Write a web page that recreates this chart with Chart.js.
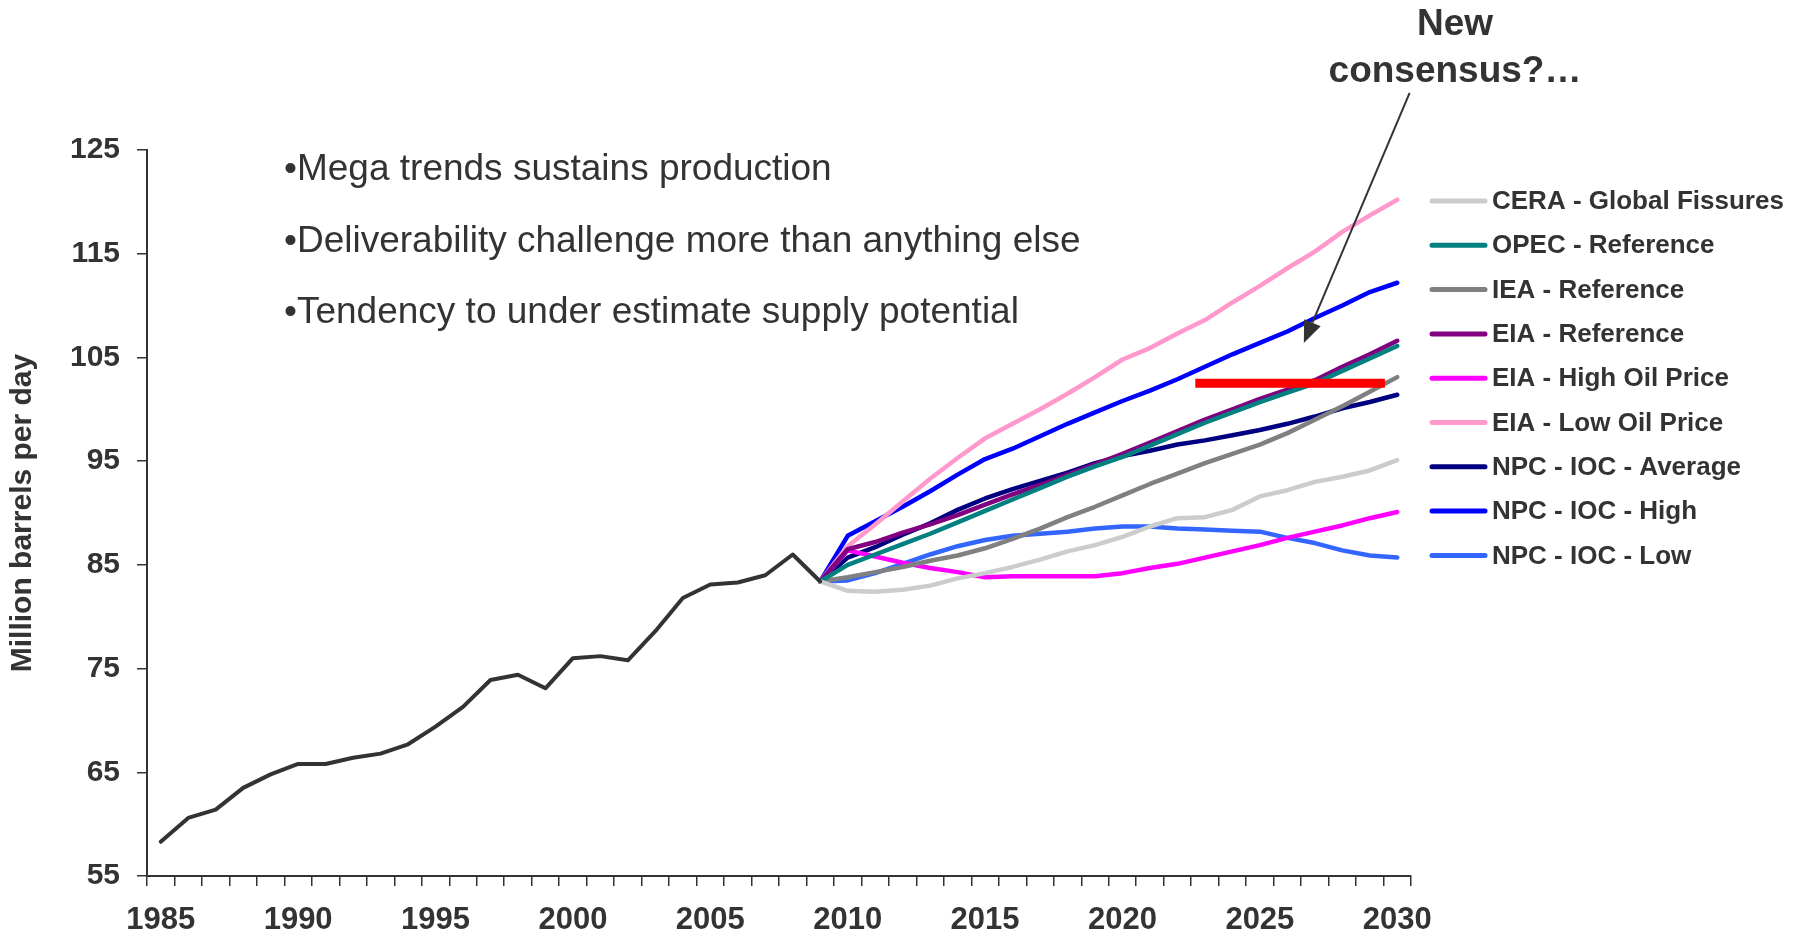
<!DOCTYPE html>
<html>
<head>
<meta charset="utf-8">
<title>Oil supply outlooks</title>
<script src="https://cdn.jsdelivr.net/npm/chart.js@4.4.1/dist/chart.umd.min.js"></script>
<style>
  html, body { margin: 0; padding: 0; background: #fff; }
  #wrap { width: 1793px; height: 940px; position: relative; }
</style>
</head>
<body>
<div id="wrap"><canvas id="supplyChart"></canvas></div>
<script>
/*********************************************/
/*        World oil supply - outlooks        */
/*********************************************/

const years = ["1985", "1986", "1987", "1988", "1989", "1990", "1991", "1992", "1993", "1994",
  "1995", "1996", "1997", "1998", "1999", "2000", "2001", "2002", "2003", "2004",
  "2005", "2006", "2007", "2008", "2009", "2010", "2011", "2012", "2013", "2014",
  "2015", "2016", "2017", "2018", "2019", "2020", "2021", "2022", "2023", "2024",
  "2025", "2026", "2027", "2028", "2029", "2030"];

// actual production 1985-2009
const history = [58.3, 60.6, 61.4, 63.5, 64.8, 65.8, 65.8, 66.4, 66.8, 67.7,
  69.4, 71.3, 73.9, 74.4, 73.1, 76.0, 76.2, 75.8, 78.6, 81.8,
  83.1, 83.3, 84.0, 86.0, 83.4];

// outlooks 2009-2030
const ceraFissures = [83.4, 82.5, 82.4, 82.6, 83.0, 83.7, 84.2, 84.8, 85.5, 86.3, 86.9,
  87.7, 88.7, 89.5, 89.6, 90.3, 91.6, 92.2, 93.0, 93.5, 94.1, 95.1];
const opecRef = [83.4, 85.0, 86.0, 87.0, 88.0, 89.1, 90.2, 91.3, 92.4, 93.5, 94.5,
  95.4, 96.5, 97.6, 98.7, 99.7, 100.7, 101.6, 102.5, 103.7, 104.9, 106.1];
const ieaRef = [83.4, 83.8, 84.3, 84.8, 85.4, 85.9, 86.6, 87.5, 88.5, 89.6, 90.6,
  91.7, 92.8, 93.8, 94.8, 95.7, 96.6, 97.7, 99.0, 100.3, 101.7, 103.1];
const eiaRef = [83.4, 86.5, 87.2, 88.1, 88.9, 89.8, 90.8, 91.8, 92.7, 93.7, 94.7,
  95.7, 96.8, 97.9, 99.0, 100.0, 101.0, 101.9, 102.8, 104.1, 105.3, 106.6];
const eiaHigh = [83.4, 86.4, 85.8, 85.2, 84.7, 84.3, 83.8, 83.9, 83.9, 83.9, 83.9,
  84.2, 84.7, 85.1, 85.7, 86.3, 86.9, 87.6, 88.2, 88.8, 89.5, 90.1];
const eiaLow = [83.4, 86.8, 88.9, 91.1, 93.3, 95.3, 97.2, 98.6, 100.0, 101.5, 103.1,
  104.8, 105.9, 107.3, 108.6, 110.3, 111.9, 113.6, 115.2, 117.1, 118.7, 120.2];
const npcAverage = [83.4, 85.7, 86.7, 87.9, 89.0, 90.3, 91.4, 92.3, 93.1, 93.9, 94.8,
  95.5, 96.0, 96.6, 97.0, 97.5, 98.0, 98.6, 99.3, 100.1, 100.7, 101.4];
const npcHigh = [83.4, 87.8, 89.2, 90.6, 92.1, 93.7, 95.2, 96.2, 97.4, 98.6, 99.7,
  100.8, 101.8, 102.9, 104.1, 105.3, 106.4, 107.5, 108.8, 110.0, 111.3, 112.2];
const npcLow = [83.4, 83.5, 84.2, 85.1, 86.0, 86.8, 87.4, 87.8, 88.0, 88.2, 88.5,
  88.7, 88.7, 88.5, 88.4, 88.3, 88.2, 87.6, 87.1, 86.4, 85.9, 85.7];

// "new consensus" band and the arrow pointing at it (year, value)
const consensusYears = [2022.65, 2029.55];
const consensusValue = 102.5;
const arrowFrom = [2030.45, 130.5];
const arrowTo = [2026.6, 106.4];

const bullets = [
  "\u2022Mega trends sustains production",
  "\u2022Deliverability challenge more than anything else",
  "\u2022Tendency to under estimate supply potential"
];

const FONT = "Arial, 'Liberation Sans', Helvetica, sans-serif";
const TEXT = "#333333";

// pad a 2009-2030 outlook out to the full 1985-2030 axis
function outlook(values) {
  return new Array(years.length - values.length).fill(null).concat(values);
}
function actual(values) {
  return values.concat(new Array(years.length - values.length).fill(null));
}

function series(label, color, values) {
  return {
    label: label,
    data: outlook(values),
    borderColor: color,
    backgroundColor: color,
    borderWidth: 4.5,
    pointRadius: 0,
    tension: 0,
    borderJoinStyle: "round",
    borderCapStyle: "round"
  };
}

const data = {
  labels: years,
  datasets: [
    {
      label: "",
      data: actual(history),
      borderColor: "#333333",
      borderWidth: 4,
      pointRadius: 0,
      tension: 0,
      borderJoinStyle: "round",
      borderCapStyle: "round"
    },
    series("CERA - Global Fissures", "#cccccc", ceraFissures),
    series("OPEC - Reference", "#008080", opecRef),
    series("IEA - Reference", "#808080", ieaRef),
    series("EIA - Reference", "#800080", eiaRef),
    series("EIA - High Oil Price", "#ff00ff", eiaHigh),
    series("EIA - Low Oil Price", "#ff99cc", eiaLow),
    series("NPC - IOC - Average", "#000080", npcAverage),
    series("NPC - IOC - High", "#0000ff", npcHigh),
    series("NPC - IOC - Low", "#3366ff", npcLow)
  ]
};

// texts, arrow, consensus bar and the legend on the right
const overlay = {
  id: "overlay",
  afterDatasetsDraw(chart) {
    const { ctx, scales: { x, y } } = chart;
    const px = (yr) => x.getPixelForValue(yr - 1985);

    ctx.save();

    // consensus bar
    ctx.strokeStyle = "#ff0000";
    ctx.lineWidth = 9;
    ctx.lineCap = "butt";
    ctx.beginPath();
    ctx.moveTo(px(consensusYears[0]), y.getPixelForValue(consensusValue));
    ctx.lineTo(px(consensusYears[1]), y.getPixelForValue(consensusValue));
    ctx.stroke();

    // arrow
    const x0 = px(arrowFrom[0]), y0 = y.getPixelForValue(arrowFrom[1]);
    const x1 = px(arrowTo[0]), y1 = y.getPixelForValue(arrowTo[1]);
    const ang = Math.atan2(y1 - y0, x1 - x0);
    const headLen = 22, headHalf = 9;
    const bx = x1 - headLen * Math.cos(ang), by = y1 - headLen * Math.sin(ang);
    ctx.strokeStyle = TEXT;
    ctx.fillStyle = TEXT;
    ctx.lineWidth = 2;
    ctx.beginPath();
    ctx.moveTo(x0, y0);
    ctx.lineTo(bx, by);
    ctx.stroke();
    ctx.beginPath();
    ctx.moveTo(x1, y1);
    ctx.lineTo(bx + headHalf * Math.sin(ang), by - headHalf * Math.cos(ang));
    ctx.lineTo(bx - headHalf * Math.sin(ang), by + headHalf * Math.cos(ang));
    ctx.closePath();
    ctx.fill();

    // annotation text
    ctx.fillStyle = TEXT;
    ctx.textAlign = "center";
    ctx.textBaseline = "alphabetic";
    ctx.font = "bold 37px " + FONT;
    ctx.fillText("New", 1455, 35);
    ctx.fillText("consensus?\u2026", 1455, 82);

    // bullet points
    ctx.textAlign = "left";
    ctx.font = "37px " + FONT;
    bullets.forEach((b, i) => ctx.fillText(b, 284, 180 + i * 71.5));

    // legend
    ctx.font = "bold 26px " + FONT;
    ctx.textBaseline = "middle";
    let row = 0;
    chart.data.datasets.forEach((ds) => {
      if (!ds.label) return;
      const ly = 201 + row * 44.3;
      ctx.strokeStyle = ds.borderColor;
      ctx.lineWidth = 5;
      ctx.lineCap = "round";
      ctx.beginPath();
      ctx.moveTo(1432, ly);
      ctx.lineTo(1485, ly);
      ctx.stroke();
      ctx.fillStyle = TEXT;
      ctx.fillText(ds.label, 1492, ly + 1);
      row++;
    });

    ctx.restore();
  }
};

const config = {
  type: "line",
  data: data,
  options: {
    responsive: true,
    maintainAspectRatio: false,
    animation: false,
    events: [],
    layout: { padding: { top: 150, right: 382, left: 0, bottom: 0 } },
    plugins: {
      legend: { display: false },
      tooltip: { enabled: false }
    },
    scales: {
      x: {
        type: "category",
        offset: true,
        afterFit(scale) { scale.height = 64; },
        border: { color: "#333333", width: 2 },
        grid: {
          offset: true,
          drawOnChartArea: false,
          drawTicks: true,
          tickLength: 10,
          color: "#333333",
          lineWidth: 1.5
        },
        ticks: {
          autoSkip: false,
          maxRotation: 0,
          padding: 16,
          color: TEXT,
          font: { family: FONT, size: 31, weight: "bold" },
          callback: function (value, index) {
            const yr = Number(years[index]);
            return yr % 5 === 0 ? years[index] : "";
          }
        }
      },
      y: {
        min: 55,
        max: 125,
        afterFit(scale) { scale.width = 147; },
        border: { color: "#333333", width: 2 },
        grid: {
          drawOnChartArea: false,
          drawTicks: true,
          tickLength: 10,
          color: "#333333",
          lineWidth: 1.5
        },
        ticks: {
          stepSize: 10,
          padding: 17,
          color: TEXT,
          font: { family: FONT, size: 30, weight: "bold" }
        },
        title: {
          display: true,
          text: "Million barrels per day",
          color: TEXT,
          font: { family: FONT, size: 30, weight: "bold" },
          padding: { top: 5, bottom: 0 }
        }
      }
    }
  },
  plugins: [overlay]
};

const supplyChart = new Chart(document.getElementById("supplyChart"), config);
</script>
</body>
</html>
